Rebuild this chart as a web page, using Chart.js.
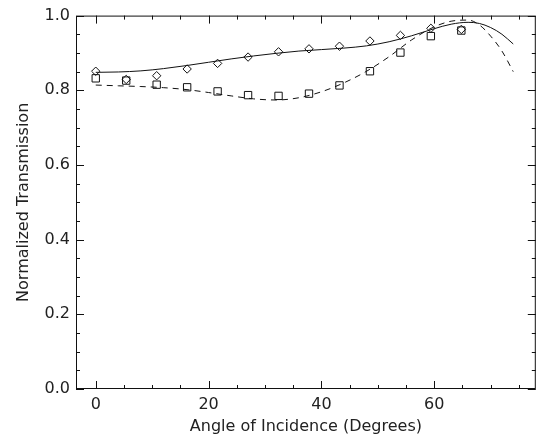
<!DOCTYPE html>
<html>
<head>
<meta charset="utf-8">
<script src="https://cdn.jsdelivr.net/npm/chart.js@4.4.0/dist/chart.umd.min.js"></script>
<style>
  html, body { margin: 0; padding: 0; background: #fff; }
  #wrap { width: 542px; height: 438px; }
</style>
</head>
<body>
<div id="wrap"><canvas id="chart"></canvas></div>
<script>
// ---------- measured points ----------
const ANGLES   = [0, 5.4, 10.8, 16.2, 21.6, 27, 32.4, 37.8, 43.2, 48.6, 54, 59.4, 64.8];
const DIAMONDS = [0.851, 0.829, 0.839, 0.857, 0.872, 0.889, 0.903, 0.911, 0.918, 0.932, 0.947, 0.966, 0.963];
const SQUARES  = [0.832, 0.826, 0.815, 0.808, 0.797, 0.787, 0.785, 0.791, 0.813, 0.851, 0.901, 0.945, 0.960];

// ---------- model curves ----------
const CURVE_X = [0, 4, 8, 12, 16, 20, 24, 28, 32, 36, 40, 44, 48, 52, 56, 60, 63, 66, 68, 70, 72, 74];
const SOLID   = [0.848, 0.849, 0.852, 0.858, 0.866, 0.875, 0.884, 0.892, 0.899, 0.905, 0.909, 0.913, 0.919, 0.930, 0.946, 0.965, 0.977, 0.982, 0.979, 0.968, 0.950, 0.924];
const DASHED  = [0.814, 0.812, 0.810, 0.807, 0.802, 0.794, 0.785, 0.777, 0.774, 0.780, 0.796, 0.820, 0.851, 0.890, 0.935, 0.970, 0.985, 0.988, 0.975, 0.945, 0.905, 0.850];

const X_TICKS = [0, 20, 40, 60];
const Y_TICKS = [0, 0.2, 0.4, 0.6, 0.8, 1.0];

const FONT = { family: 'DejaVu Sans', size: 16 };
const INK = '#111';
const TEXT = '#222';

const pts = (xs, ys) => xs.map((x, i) => ({ x, y: ys[i] }));

// IDL-style box with inward ticks on all four sides
const boxTicks = {
  id: 'boxTicks',
  afterDraw(chart) {
    const { ctx, chartArea: a, scales: { x, y } } = chart;
    ctx.save();
    ctx.strokeStyle = INK;
    ctx.lineWidth = 1;
    ctx.strokeRect(a.left + 0.5, a.top + 0.5, a.right - a.left - 1, a.bottom - a.top - 1);
    ctx.beginPath();
    for (let v = 0; v <= 75; v += 5) {
      const px = Math.round(x.getPixelForValue(v)) + 0.5;
      const len = v % 20 === 0 ? 8 : 4;
      ctx.moveTo(px, a.bottom); ctx.lineTo(px, a.bottom - len);
      ctx.moveTo(px, a.top); ctx.lineTo(px, a.top + len);
    }
    for (let i = 0; i <= 20; i++) {
      const v = i * 0.05;
      const py = Math.round(y.getPixelForValue(v)) + 0.5;
      const len = i % 4 === 0 ? 8 : 4;
      ctx.moveTo(a.left, py); ctx.lineTo(a.left + len, py);
      ctx.moveTo(a.right, py); ctx.lineTo(a.right - len, py);
    }
    ctx.stroke();
    ctx.restore();
  }
};

new Chart(document.getElementById('chart'), {
  type: 'scatter',
  data: {
    datasets: [
      {
        data: pts(CURVE_X, SOLID), showLine: true, pointRadius: 0,
        borderColor: INK, borderWidth: 1, cubicInterpolationMode: 'monotone'
      },
      {
        data: pts(CURVE_X, DASHED), showLine: true, pointRadius: 0,
        borderColor: INK, borderWidth: 1, borderDash: [6, 5], cubicInterpolationMode: 'monotone'
      },
      {
        data: pts(ANGLES, SQUARES), pointStyle: 'rect', pointRadius: 5.2,
        backgroundColor: 'rgba(0,0,0,0)', borderColor: INK, borderWidth: 1
      },
      {
        data: pts(ANGLES, DIAMONDS), pointStyle: 'rectRot', pointRadius: 4.2,
        backgroundColor: 'rgba(0,0,0,0)', borderColor: INK, borderWidth: 1
      }
    ]
  },
  options: {
    responsive: true,
    maintainAspectRatio: false,
    animation: false,
    layout: { padding: { top: 9, right: 3, left: 0, bottom: 0 } },
    plugins: { legend: { display: false }, tooltip: { enabled: false } },
    scales: {
      x: {
        type: 'linear', min: -3.5, max: 78,
        grid: { display: false, drawTicks: false, tickLength: 0 }, border: { display: false },
        afterBuildTicks: s => { s.ticks = X_TICKS.map(v => ({ value: v })); },
        afterFit: s => { s.height = 49; },
        ticks: { color: TEXT, font: FONT, padding: 6, maxRotation: 0 },
        title: { display: true, text: 'Angle of Incidence (Degrees)', color: TEXT, font: FONT, padding: { top: 2, bottom: 2 } }
      },
      y: {
        type: 'linear', min: 0, max: 1.0,
        grid: { display: false, drawTicks: false, tickLength: 0 }, border: { display: false },
        afterBuildTicks: s => { s.ticks = Y_TICKS.map(v => ({ value: v })); },
        afterFit: s => { s.width = 76; },
        ticks: { color: TEXT, font: FONT, padding: 6, callback: v => v.toFixed(1) },
        title: { display: true, text: 'Normalized Transmission', color: TEXT, font: FONT, padding: { top: 14, bottom: 14 } }
      }
    }
  },
  plugins: [boxTicks]
});
</script>
</body>
</html>
